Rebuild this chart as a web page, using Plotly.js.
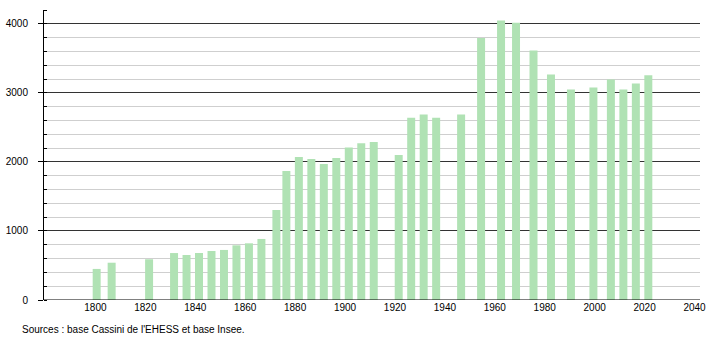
<!DOCTYPE html>
<html>
<head>
<meta charset="utf-8">
<script src="https://cdn.plot.ly/plotly-3.0.1.min.js"></script>
<style>html,body{margin:0;padding:0;background:#fff;}#chart{width:710px;height:340px;}</style>
</head>
<body>
<div id="chart"></div>
<script>
const years = [1800, 1806, 1821, 1831, 1836, 1841, 1846, 1851, 1856, 1861, 1866, 1872, 1876, 1881, 1886, 1891, 1896, 1901, 1906, 1911, 1921, 1926, 1931, 1936, 1946, 1954, 1962, 1968, 1975, 1982, 1990, 1999, 2006, 2011, 2016, 2021];
const population = [450, 540, 590, 680, 652, 681, 710, 725, 792, 821, 884, 1304, 1870, 2072, 2043, 1971, 2058, 2208, 2271, 2290, 2100, 2641, 2685, 2641, 2685, 3793, 4049, 4015, 3614, 3266, 3048, 3077, 3193, 3048, 3135, 3255];
const xTicks = [1800, 1820, 1840, 1860, 1880, 1900, 1920, 1940, 1960, 1980, 2000, 2020, 2040];
const yTicks = [0, 1000, 2000, 3000, 4000];
const sourceText = "Sources : base Cassini de l'EHESS et base Insee.";

const trace = {
  type: 'bar',
  x: years,
  y: population,
  width: 3.2,
  offset: -1.1,
  marker: {color: 'rgb(176,226,180)', line: {width: 0}},
  hoverinfo: 'x+y'
};

const layout = {
  width: 710,
  height: 340,
  margin: {l: 44, r: 10, t: 10, b: 40},
  paper_bgcolor: '#fff',
  plot_bgcolor: '#fff',
  showlegend: false,
  font: {family: 'Liberation Sans, Arial, sans-serif', size: 10, color: '#000'},
  xaxis: {
    range: [1779.4, 2042.2],
    tickvals: xTicks,
    ticktext: xTicks.map(String),
    showgrid: false,
    zeroline: false,
    showline: false,
    ticks: '',
    tickfont: {size: 10, color: '#000'},
    fixedrange: true
  },
  yaxis: {
    range: [0, 4200],
    tickvals: yTicks,
    ticktext: yTicks.map(String),
    showgrid: true,
    gridcolor: '#333',
    gridwidth: 1,
    zeroline: false,
    showline: true,
    linecolor: '#000',
    linewidth: 1,
    ticks: 'outside',
    ticklen: 5,
    tickcolor: '#000',
    ticklabelstandoff: 8,
    tickfont: {size: 10, color: '#000'},
    minor: {dtick: 200, tick0: 0, showgrid: true, gridcolor: '#cfcfcf', gridwidth: 1, ticks: 'inside', ticklen: 3, tickcolor: '#000'},
    fixedrange: true
  },
  shapes: [
    {type: 'line', xref: 'paper', yref: 'y', x0: 0, x1: 1, y0: 0, y1: 0, line: {color: '#000', width: 1}}
  ],
  annotations: [
    {text: sourceText, xref: 'paper', yref: 'paper', x: -0.037, y: -0.1, xanchor: 'left', yanchor: 'middle', showarrow: false, font: {size: 10, color: '#000'}}
  ]
};

Plotly.newPlot('chart', [trace], layout, {displayModeBar: false, staticPlot: true});
</script>
</body>
</html>
